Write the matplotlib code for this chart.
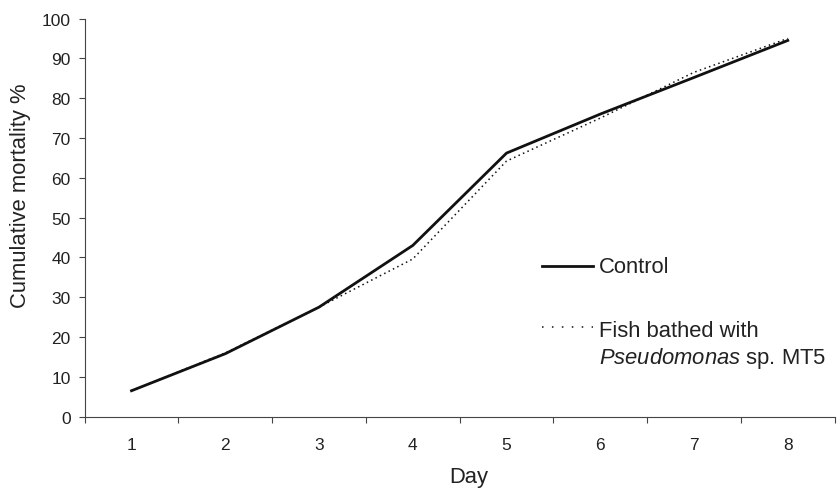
import matplotlib.pyplot as plt
from matplotlib.lines import Line2D
import numpy as np

plt.rcParams['font.family'] = ['Liberation Sans', 'DejaVu Sans']
plt.rcParams['mathtext.fontset'] = 'custom'
plt.rcParams['mathtext.it'] = 'Liberation Sans:italic'
plt.rcParams['mathtext.rm'] = 'Liberation Sans'

# data
days = [1, 2, 3, 4, 5, 6, 7, 8]
control = [6.5, 15.8, 27.5, 43.0, 66.2, 76.0, 85.2, 94.5]
bathed = [6.5, 16.0, 27.5, 39.6, 64.2, 75.0, 86.5, 95.0]
yticks = [0, 10, 20, 30, 40, 50, 60, 70, 80, 90, 100]

ink = '#222222'

fig = plt.figure(figsize=(8.38, 4.89), dpi=100)
ax = fig.add_axes([0.101, 0.146, 0.895, 0.814])

ax.plot(days, control, color='#111111', lw=2.0, solid_joinstyle='miter')
ax.plot(days, bathed, color='#111111', lw=1.1, linestyle=(0, (1, 2.2)))

ax.set_xlim(0.5, 8.5)
ax.set_ylim(0, 100)
ax.set_yticks(yticks)

# category labels at integers, tick marks between categories
ax.set_xticks(np.arange(0.5, 9.0, 1.0))
ax.set_xticklabels([])
ax.set_xticks(days, minor=True)
ax.set_xticklabels([str(d) for d in days], minor=True)
ax.tick_params(axis='x', which='major', direction='out', length=4, width=0.8, color='#444444')
ax.tick_params(axis='x', which='minor', length=0, pad=15, labelsize=12.5, labelcolor=ink)
ax.tick_params(axis='y', direction='out', length=4, width=0.8, color='#444444', pad=6,
               labelsize=12.5, labelcolor=ink)

for side in ['top', 'right']:
    ax.spines[side].set_visible(False)
for side in ['left', 'bottom']:
    ax.spines[side].set_color('#444444')
    ax.spines[side].set_linewidth(0.8)

ax.set_xlabel('Day', fontsize=15.8, color=ink)
ax.set_ylabel('Cumulative mortality %', fontsize=15.8, color=ink)
ax.xaxis.set_label_coords(0.512, -0.125)
ax.yaxis.set_label_coords(-0.071, 0.557)

# legend drawn by hand so the dotted sample sits on the first text line
fig.add_artist(Line2D([0.647, 0.708], [0.453, 0.453], transform=fig.transFigure,
                      color='#111111', lw=2.0))
fig.text(0.715, 0.452, 'Control', fontsize=15.8, color=ink, va='center')
fig.add_artist(Line2D([0.647, 0.708], [0.329, 0.329], transform=fig.transFigure,
                      color='#111111', lw=1.1, linestyle=(0, (1, 5.5))))
fig.text(0.715, 0.323, 'Fish bathed with', fontsize=15.8, color=ink, va='center')
fig.text(0.715, 0.266, r'$\it{Pseudomonas}$ sp. MT5', fontsize=15.8, color=ink, va='center')

fig.savefig('out.png', dpi=100)
